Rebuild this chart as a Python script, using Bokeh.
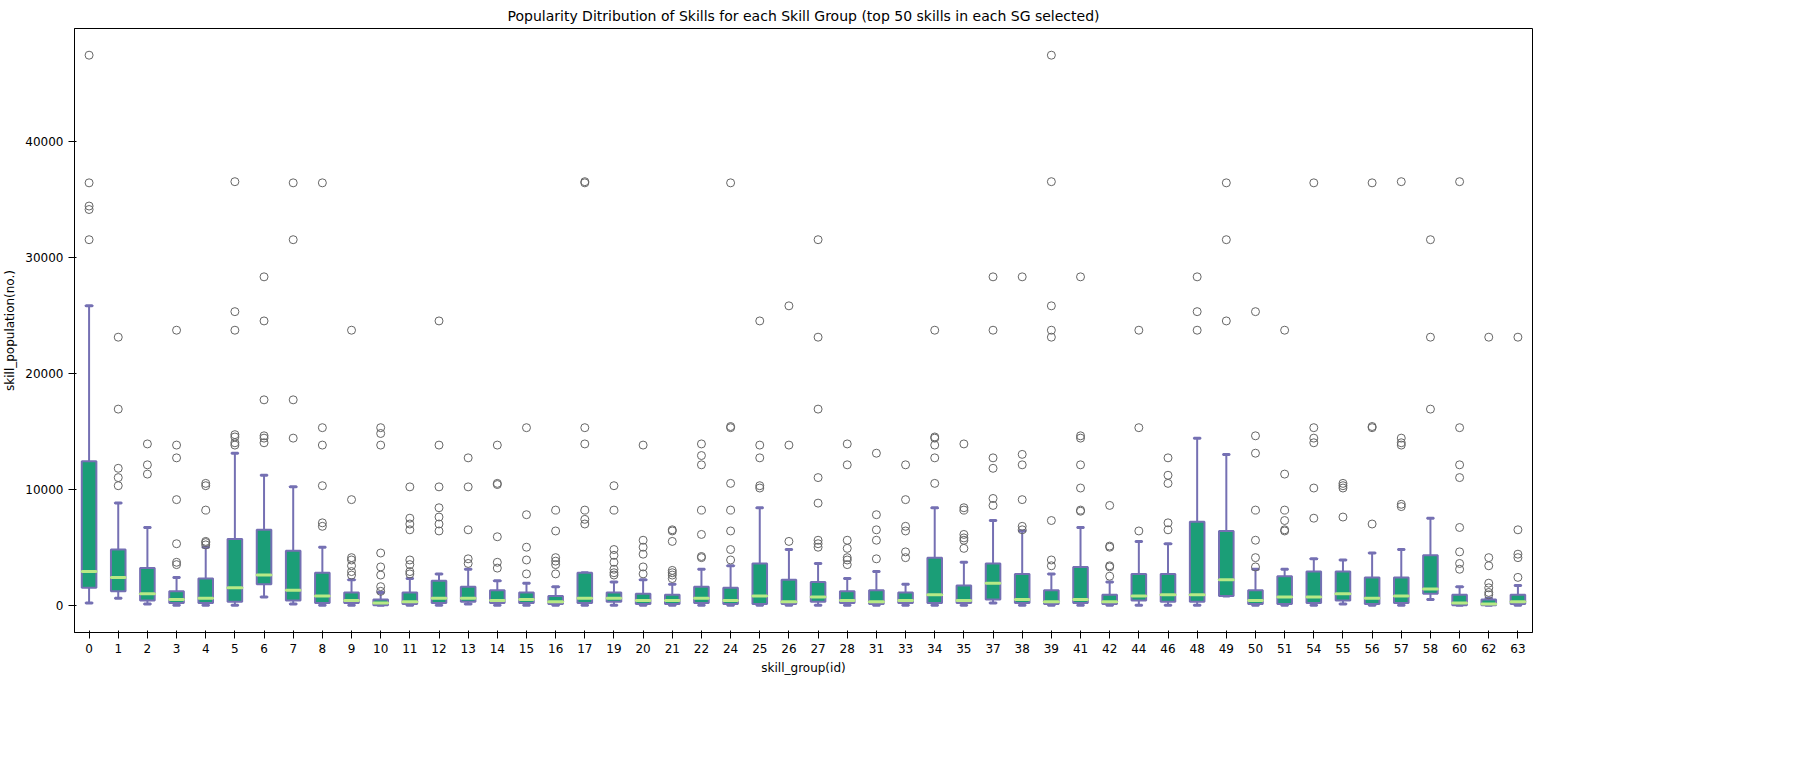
from bokeh.plotting import figure
from bokeh.models import ColumnDataSource, FixedTicker, Range1d
from bokeh.embed import file_html
from bokeh.resources import INLINE

groups = ["0","1","2","3","4","5","6","7","8","9","10","11","12","13","14","15","16","17","19","20",
          "21","22","24","25","26","27","28","31","33","34","35","37","38","39","41","42","44","46","48","49",
          "50","51","54","55","56","57","58","60","62","63"]
whisk_lo = [200,600,100,0,0,0,700,100,0,0,0,0,0,100,0,0,0,0,0,0,
            0,0,0,0,0,0,0,0,0,0,0,200,0,0,0,0,0,0,0,800,
            0,0,0,100,0,0,500,0,0,0]
q1 = [1500,1200,400,200,200,300,1800,400,200,200,0,100,200,300,200,200,100,200,300,100,
      100,200,100,100,100,300,200,100,200,200,200,500,200,100,200,100,400,300,300,800,
      100,100,200,400,100,200,1000,0,0,100]
med = [2900,2400,1000,500,600,1500,2600,1300,800,400,200,300,600,600,400,500,300,600,600,400,
       400,600,400,800,300,700,400,300,400,900,400,1900,500,300,500,300,800,900,900,2200,
       400,700,700,1000,600,800,1400,200,100,300]
q3 = [12400,4800,3200,1200,2300,5700,6500,4700,2800,1100,500,1100,2100,1600,1300,1100,800,2800,1100,1000,
      900,1600,1500,3600,2200,2000,1200,1300,1100,4100,1700,3600,2700,1300,3300,900,2700,2700,7200,6400,
      1300,2500,2900,2900,2400,2400,4300,900,500,900]
whisk_hi = [25800,8800,6700,2400,5000,13100,11200,10200,5000,2200,1100,2300,2700,3100,2100,1900,1600,2800,2000,2200,
            1800,3100,3400,8400,4800,3600,2300,2900,1800,8400,3700,7300,6400,2700,6700,2000,5500,5300,14400,13000,
            3100,3100,4000,3900,4500,4800,7500,1600,600,1700]
outliers = [
    [31500,34100,34400,36400,47400], [10300,11000,11800,16900,23100], [11300,12100,13900],
    [3500,3700,5300,9100,12700,13800,23700], [5200,5400,5500,8200,10300,10500],
    [13800,14000,14500,14700,23700,25300,36500], [14000,14400,14600,17700,24500,28300],
    [14400,17700,31500,36400], [6800,7100,10300,13800,15300,36400],
    [2600,2900,3400,3900,4100,9100,23700], [1200,1600,2600,3300,4500,13800,14800,15300],
    [2700,2900,3500,3900,6500,7000,7500,10200], [6400,7000,7600,8400,10200,13800,24500],
    [3600,4000,6500,10200,12700], [3200,3700,5900,10400,10500,13800], [2700,3900,5000,7800,15300],
    [2700,3500,3800,4100,6400,8200], [7000,7400,8200,13900,15300,36400,36500],
    [2600,2800,3100,3700,4300,4800,8200,10300], [2700,3300,4400,5000,5600,13800],
    [2300,2600,2800,3000,5500,6400,6500], [4100,4200,6100,8200,12100,12900,13900],
    [3900,4800,6400,8200,10500,15300,15400,36400], [10100,10300,12700,13800,24500],
    [5500,13800,25800], [5000,5300,5600,8800,11000,16900,23100,31500],
    [3500,3900,4100,4900,5600,12100,13900], [4000,5600,6500,7800,13100],
    [4100,4600,6400,6800,9100,12100], [10500,12700,13800,14400,14500,23700],
    [4900,5600,5800,6100,8200,8400,13900], [8600,9200,11800,12700,23700,28300],
    [6500,6800,9100,12100,13000,28300], [3400,3900,7300,23100,23700,25800,36500,47400],
    [8100,8200,10100,12100,14400,14600,28300], [2500,3300,3400,5000,5100,8600],
    [6400,15300,23700], [6500,7100,10500,11200,12700], [23700,25300,28300],
    [24500,31500,36400], [3300,4100,5600,8200,13100,14600,25300],
    [6400,6500,7300,8200,11300,23700], [7500,10100,14000,14400,15300,36400],
    [7600,10100,10300,10500], [7000,15300,15400,36400], [8500,8700,13800,14000,14400,36500],
    [16900,23100,31500], [3100,3600,4600,6700,11000,12100,15300,36500],
    [900,1100,1500,1900,3400,4100,23100], [2400,4100,4400,6500,23100],
]

x = list(range(len(groups)))
src = ColumnDataSource(dict(x=x, q1=q1, med=med, q3=q3, lo=whisk_lo, hi=whisk_hi))
ox = [i for i, o in enumerate(outliers) for _ in o]
oy = [v for o in outliers for v in o]

p = figure(width=1785, height=762, output_backend="svg", toolbar_location=None,
           title="Popularity Ditribution of Skills for each Skill Group (top 50 skills in each SG selected)",
           x_axis_label="skill_group(id)", y_axis_label="skill_population(no.)",
           min_border_left=64, min_border_right=253, min_border_top=20, min_border_bottom=130)
p.x_range = Range1d(-0.5, len(groups) - 0.5)
p.y_range = Range1d(-2350, 49700)
p.title.align = "center"
p.title.text_font = "DejaVu Sans"
p.title.text_font_size = "14px"
p.title.text_font_style = "normal"
p.title.text_color = "black"
p.grid.visible = False
p.outline_line_color = "black"
for ax in (p.xaxis, p.yaxis):
    ax.axis_label_text_font = "DejaVu Sans"
    ax.axis_label_text_font_size = "12px"
    ax.axis_label_text_font_style = "normal"
    ax.axis_label_text_color = "black"
    ax.major_label_text_font = "DejaVu Sans"
    ax.major_label_text_font_size = "12px"
    ax.major_label_text_color = "black"
    ax.axis_line_color = "black"
    ax.major_tick_line_color = "black"
    ax.minor_tick_line_color = None
p.xaxis.ticker = FixedTicker(ticks=x)
p.xaxis.major_label_overrides = {i: g for i, g in enumerate(groups)}
p.yaxis.ticker = FixedTicker(ticks=[0, 10000, 20000, 30000, 40000])

purple = "#7570b3"
p.segment("x", "lo", "x", "q1", source=src, line_color=purple, line_width=2)
p.segment("x", "q3", "x", "hi", source=src, line_color=purple, line_width=2)
p.rect("x", "lo", width=0.22, height=1, height_units="screen", source=src,
       fill_color=None, line_color=purple, line_width=2)
p.rect("x", "hi", width=0.22, height=1, height_units="screen", source=src,
       fill_color=None, line_color=purple, line_width=2)
p.vbar(x="x", bottom="q1", top="q3", width=0.5, source=src,
       fill_color="#1b9e77", line_color=purple, line_width=2)
p.rect("x", "med", width=0.5, height=1, height_units="screen", source=src,
       fill_color=None, line_color="#b8e986", line_width=2)
p.scatter(ox, oy, size=8, fill_color=None, line_color="#666666", line_width=1)

open("out.html", "w").write(file_html(p, INLINE))
